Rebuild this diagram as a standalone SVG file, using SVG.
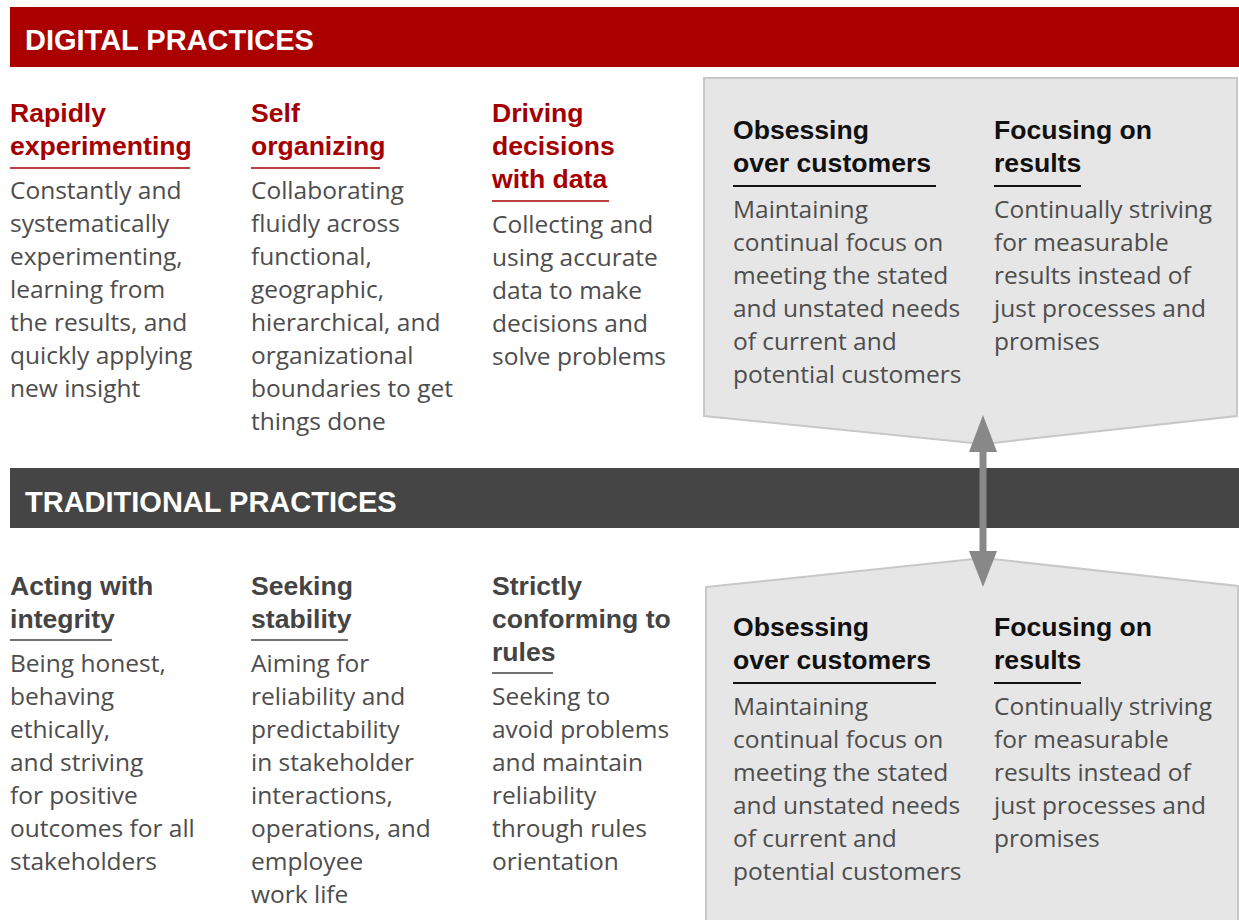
<svg xmlns="http://www.w3.org/2000/svg" width="1239" height="920" viewBox="0 0 1239 920">
<defs>
<style>
.bar-title{font-family:"Liberation Sans",Arial,sans-serif;font-weight:bold;font-size:29px;fill:#fff}
.hd{font-family:"Liberation Sans",Arial,sans-serif;font-weight:bold;font-size:26.6px}
.red{fill:#a50000}
.gry{fill:#444}
.blk{fill:#111}
.body{font-family:"Open Sans","Liberation Sans",sans-serif;font-size:24.5px;fill:#4d4d4d}
.ul-red{stroke:#a50000;stroke-width:1.5}
.ul-gry{stroke:#444;stroke-width:1.5}
.ul-blk{stroke:#111;stroke-width:2}
.box{fill:#e6e6e6;stroke:#c8c8c8;stroke-width:2}
.arrow{fill:#888}
</style>
</defs>
<rect width="1239" height="920" fill="#fff"/>

<g id="digital-header">
<rect x="10" y="7" width="1229" height="60" fill="#aa0000"/>
<text class="bar-title" x="25" y="50">DIGITAL PRACTICES</text>
</g>

<g id="traditional-header">
<rect x="10" y="468" width="1229" height="60" fill="#454545"/>
<text class="bar-title" x="25" y="512">TRADITIONAL PRACTICES</text>
</g>

<g id="digital-box">
<polygon class="box" points="704,78 1237,78 1237,416 983,444 704,416"/>
<g id="d-customers">
<text class="hd blk" x="733" y="139">Obsessing</text>
<text class="hd blk" x="733" y="172">over customers</text>
<line class="ul-blk" x1="733" y1="186" x2="936" y2="186"/>
<text class="body"><tspan x="733" y="218">Maintaining</tspan><tspan x="733" y="251">continual focus on</tspan><tspan x="733" y="284">meeting the stated</tspan><tspan x="733" y="317">and unstated needs</tspan><tspan x="733" y="350">of current and</tspan><tspan x="733" y="383">potential customers</tspan></text>
</g>
<g id="d-results">
<text class="hd blk" x="994" y="139">Focusing on</text>
<text class="hd blk" x="994" y="172">results</text>
<line class="ul-blk" x1="994" y1="186" x2="1081" y2="186"/>
<text class="body"><tspan x="994" y="218">Continually striving</tspan><tspan x="994" y="251">for measurable</tspan><tspan x="994" y="284">results instead of</tspan><tspan x="994" y="317">just processes and</tspan><tspan x="994" y="350">promises</tspan></text>
</g>
</g>

<g id="traditional-box">
<polygon class="box" points="706,587 983,558 1238,586 1238,930 706,930"/>
<g id="t-customers">
<text class="hd blk" x="733" y="636">Obsessing</text>
<text class="hd blk" x="733" y="669">over customers</text>
<line class="ul-blk" x1="733" y1="683" x2="936" y2="683"/>
<text class="body"><tspan x="733" y="715">Maintaining</tspan><tspan x="733" y="748">continual focus on</tspan><tspan x="733" y="781">meeting the stated</tspan><tspan x="733" y="814">and unstated needs</tspan><tspan x="733" y="847">of current and</tspan><tspan x="733" y="880">potential customers</tspan></text>
</g>
<g id="t-results">
<text class="hd blk" x="994" y="636">Focusing on</text>
<text class="hd blk" x="994" y="669">results</text>
<line class="ul-blk" x1="994" y1="683" x2="1081" y2="683"/>
<text class="body"><tspan x="994" y="715">Continually striving</tspan><tspan x="994" y="748">for measurable</tspan><tspan x="994" y="781">results instead of</tspan><tspan x="994" y="814">just processes and</tspan><tspan x="994" y="847">promises</tspan></text>
</g>
</g>

<g id="rapidly-experimenting">
<text class="hd red"><tspan x="10" y="122">Rapidly</tspan><tspan x="10" y="155">experimenting</tspan></text>
<line class="ul-red" x1="10" y1="168" x2="190" y2="168"/>
<text class="body"><tspan x="10" y="199">Constantly and</tspan><tspan x="10" y="232">systematically</tspan><tspan x="10" y="265">experimenting,</tspan><tspan x="10" y="298">learning from</tspan><tspan x="10" y="331">the results, and</tspan><tspan x="10" y="364">quickly applying</tspan><tspan x="10" y="397">new insight</tspan></text>
</g>

<g id="self-organizing">
<text class="hd red"><tspan x="251" y="122">Self</tspan><tspan x="251" y="155">organizing</tspan></text>
<line class="ul-red" x1="251" y1="168" x2="380" y2="168"/>
<text class="body"><tspan x="251" y="199">Collaborating</tspan><tspan x="251" y="232">fluidly across</tspan><tspan x="251" y="265">functional,</tspan><tspan x="251" y="298">geographic,</tspan><tspan x="251" y="331">hierarchical, and</tspan><tspan x="251" y="364">organizational</tspan><tspan x="251" y="397">boundaries to get</tspan><tspan x="251" y="430">things done</tspan></text>
</g>

<g id="driving-decisions">
<text class="hd red"><tspan x="492" y="122">Driving</tspan><tspan x="492" y="155">decisions</tspan><tspan x="492" y="188">with data</tspan></text>
<line class="ul-red" x1="492" y1="201" x2="609" y2="201"/>
<text class="body"><tspan x="492" y="233">Collecting and</tspan><tspan x="492" y="266">using accurate</tspan><tspan x="492" y="299">data to make</tspan><tspan x="492" y="332">decisions and</tspan><tspan x="492" y="365">solve problems</tspan></text>
</g>

<g id="acting-integrity">
<text class="hd gry"><tspan x="10" y="595">Acting with</tspan><tspan x="10" y="628">integrity</tspan></text>
<line class="ul-gry" x1="10" y1="640" x2="112" y2="640"/>
<text class="body"><tspan x="10" y="672">Being honest,</tspan><tspan x="10" y="705">behaving</tspan><tspan x="10" y="738">ethically,</tspan><tspan x="10" y="771">and striving</tspan><tspan x="10" y="804">for positive</tspan><tspan x="10" y="837">outcomes for all</tspan><tspan x="10" y="870">stakeholders</tspan></text>
</g>

<g id="seeking-stability">
<text class="hd gry"><tspan x="251" y="595">Seeking</tspan><tspan x="251" y="628">stability</tspan></text>
<line class="ul-gry" x1="251" y1="640" x2="348" y2="640"/>
<text class="body"><tspan x="251" y="672">Aiming for</tspan><tspan x="251" y="705">reliability and</tspan><tspan x="251" y="738">predictability</tspan><tspan x="251" y="771">in stakeholder</tspan><tspan x="251" y="804">interactions,</tspan><tspan x="251" y="837">operations, and</tspan><tspan x="251" y="870">employee</tspan><tspan x="251" y="903">work life</tspan></text>
</g>

<g id="strictly-conforming">
<text class="hd gry"><tspan x="492" y="595">Strictly</tspan><tspan x="492" y="628">conforming to</tspan><tspan x="492" y="661">rules</tspan></text>
<line class="ul-gry" x1="492" y1="673" x2="553" y2="673"/>
<text class="body"><tspan x="492" y="705">Seeking to</tspan><tspan x="492" y="738">avoid problems</tspan><tspan x="492" y="771">and maintain</tspan><tspan x="492" y="804">reliability</tspan><tspan x="492" y="837">through rules</tspan><tspan x="492" y="870">orientation</tspan></text>
</g>

<g id="connectors">
<rect class="arrow" x="979.5" y="450" width="7" height="103"/>
<polygon class="arrow" points="983,415 997,452 969,452"/>
<polygon class="arrow" points="983,587 997,551 969,551"/>
</g>
</svg>
